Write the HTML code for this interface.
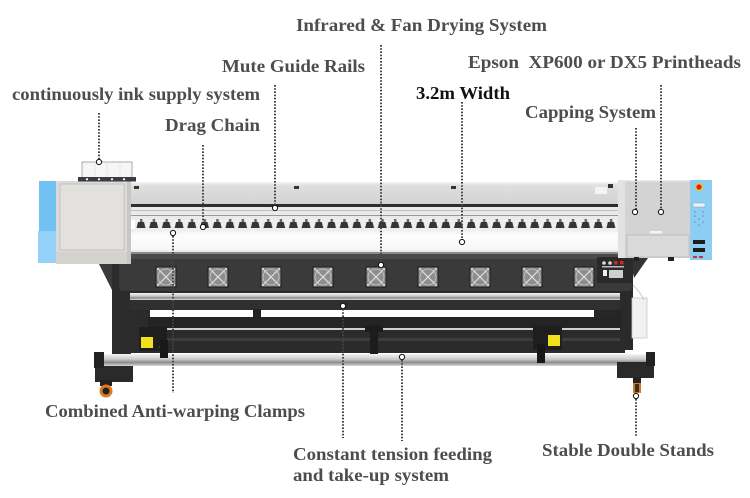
<!DOCTYPE html>
<html><head><meta charset="utf-8">
<style>
html,body{margin:0;padding:0;background:#fff;}
svg{display:block;}
text{font-family:"Liberation Serif",serif;font-weight:bold;font-size:18px;fill:#4d4d4d;}
</style></head>
<body>
<svg width="750" height="498" viewBox="0 0 750 498" xmlns="http://www.w3.org/2000/svg">
<defs>
<linearGradient id="rod" x1="0" y1="0" x2="0" y2="1">
<stop offset="0" stop-color="#f4f4f4"/><stop offset="0.45" stop-color="#c8c8c8"/><stop offset="0.7" stop-color="#8a8a8a"/><stop offset="1" stop-color="#d8d8d8"/>
</linearGradient>
<linearGradient id="roll" x1="0" y1="0" x2="0" y2="1">
<stop offset="0" stop-color="#ececec"/><stop offset="0.25" stop-color="#fdfdfd"/><stop offset="0.85" stop-color="#f7f7f7"/><stop offset="1" stop-color="#dcdcdc"/>
</linearGradient>
<linearGradient id="cover" x1="0" y1="0" x2="0" y2="1">
<stop offset="0" stop-color="#ebebeb"/><stop offset="0.2" stop-color="#dedede"/><stop offset="1" stop-color="#d2d2d2"/>
</linearGradient>
<pattern id="heads" x="135" y="219" width="12.7" height="10" patternUnits="userSpaceOnUse">
<rect x="0" y="0" width="12.7" height="10" fill="#eeeeee"/>
<polygon points="3,3 9,3 10.5,9 1.5,9" fill="#353535"/>
<rect x="5" y="0" width="2.5" height="3" fill="#666"/>
</pattern>
<g id="fan">
<rect x="-10" y="-10" width="20" height="20" fill="#8e8e8e" stroke="#1e1e1e" stroke-width="1"/>
<circle cx="0" cy="0" r="8" fill="none" stroke="#c8c8c8" stroke-width="0.8"/>
<line x1="-7" y1="-7" x2="7" y2="7" stroke="#e0e0e0" stroke-width="1.2"/>
<line x1="7" y1="-7" x2="-7" y2="7" stroke="#e0e0e0" stroke-width="1.2"/>
<circle cx="-8" cy="-8" r="0.9" fill="#fff"/><circle cx="8" cy="-8" r="0.9" fill="#fff"/>
<circle cx="-8" cy="8" r="0.9" fill="#fff"/><circle cx="8" cy="8" r="0.9" fill="#fff"/>
</g>
</defs>

<!-- ===== PRINTER ===== -->
<polygon points="98,262 132,262 124,290 112,290" fill="#3a3a3a"/>
<rect x="112" y="262" width="19" height="96" fill="#2c2c2c"/>
<polygon points="630,258 648,258 634,278" fill="#333"/>
<rect x="619" y="258" width="14" height="92" fill="#2a2a2a"/>
<rect x="632" y="298" width="15" height="40" fill="#f1f1f1" stroke="#c9c9c9" stroke-width="0.8"/>
<path d="M633,285 C640,292 642,296 644,300" stroke="#bcd" stroke-width="1" fill="none"/>

<rect x="128" y="291" width="492" height="3" fill="#2a2a2a"/>
<rect x="130" y="293" width="490" height="7" fill="url(#rod)"/>
<rect x="130" y="300" width="490" height="10" fill="#2f2f2f"/>
<rect x="130" y="310" width="20" height="20" fill="#2b2b2b"/>
<rect x="594" y="310" width="28" height="22" fill="#262626"/>
<rect x="148" y="317" width="472" height="11" fill="#242424"/>
<rect x="148" y="328" width="472" height="2" fill="#cfcfcf"/>
<rect x="130" y="330" width="495" height="23" fill="#2b2b2b"/>
<rect x="150" y="338" width="470" height="3" fill="#3d3d3d"/>
<rect x="253" y="309" width="8" height="9" fill="#222"/>
<rect x="370" y="325" width="8" height="35" fill="#1c1c1c"/>
<rect x="365" y="326" width="18" height="6" fill="#1c1c1c"/>
<rect x="95" y="354" width="560" height="12" fill="url(#rod)"/>
<rect x="95" y="366" width="38" height="16" fill="#2a2a2a"/>
<rect x="94" y="352" width="10" height="16" fill="#222"/>
<rect x="100" y="380" width="12" height="6" fill="#222"/>
<circle cx="106" cy="391" r="6.5" fill="#e07820"/>
<circle cx="106" cy="391" r="3.5" fill="#222"/>
<rect x="617" y="362" width="37" height="16" fill="#2a2a2a"/>
<rect x="646" y="352" width="9" height="14" fill="#222"/>
<rect x="633" y="378" width="8" height="6" fill="#222"/>
<rect x="633" y="383" width="8" height="10" fill="#d9761e"/>
<rect x="635" y="384" width="4" height="8" fill="#333"/>
<rect x="139" y="327" width="28" height="24" fill="#1e1e1e"/>
<rect x="141" y="337" width="12" height="11" fill="#f1e11b"/>
<circle cx="161" cy="347" r="1.3" fill="#e8d21a"/>
<rect x="160" y="340" width="8" height="18" fill="#181818"/>
<rect x="533" y="326" width="29" height="24" fill="#1e1e1e"/>
<rect x="548" y="335" width="12" height="11" fill="#f1e11b"/>
<circle cx="541" cy="346" r="1.3" fill="#e8d21a"/>
<rect x="537" y="344" width="8" height="19" fill="#181818"/>

<rect x="119" y="257" width="513" height="34" rx="3" fill="#3a3a3a"/>
<rect x="119" y="257" width="513" height="2" fill="#4a4a4a"/>
<use href="#fan" x="166" y="277"/>
<use href="#fan" x="218" y="277"/>
<use href="#fan" x="271" y="277"/>
<use href="#fan" x="323" y="277"/>
<use href="#fan" x="376" y="277"/>
<use href="#fan" x="428" y="277"/>
<use href="#fan" x="480" y="277"/>
<use href="#fan" x="532" y="277"/>
<use href="#fan" x="584" y="277"/>
<rect x="597" y="257" width="36" height="26" fill="#2a2a2a"/>
<circle cx="604" cy="263" r="1.8" fill="#ddd"/>
<circle cx="610" cy="263" r="1.8" fill="#ddd"/>
<rect x="614" y="261" width="3.5" height="3.5" fill="#d22"/>
<rect x="620" y="261" width="3.5" height="3.5" fill="#d22"/>
<rect x="602" y="266" width="22" height="1.5" fill="#bbb"/>
<rect x="603" y="270" width="4" height="6" fill="#eee"/>
<rect x="609" y="270" width="14" height="8" fill="#cfcfcf"/>

<rect x="128" y="182" width="494" height="23" fill="url(#cover)"/>
<rect x="128" y="182" width="494" height="1.5" fill="#f2f2f2"/>
<rect x="134" y="186" width="5" height="3" fill="#333"/>
<rect x="294" y="186" width="5" height="3" fill="#333"/>
<rect x="451" y="186" width="5" height="3" fill="#333"/>
<rect x="595" y="187" width="12" height="7" fill="#f4f4f4"/>
<rect x="608" y="184" width="5" height="4" fill="#333"/>
<rect x="128" y="204" width="494" height="3" fill="#2e2e2e"/>
<rect x="130" y="207" width="490" height="13" fill="#eaeaea"/>
<rect x="130" y="210" width="490" height="1" fill="#c0c0c0"/>
<rect x="130" y="215" width="490" height="1" fill="#9a9a9a"/>
<rect x="135" y="219" width="485" height="10" fill="url(#heads)"/>
<rect x="130" y="229" width="490" height="24" fill="url(#roll)"/>
<rect x="130" y="252" width="490" height="2" fill="#8a8a8a"/>
<rect x="128" y="254" width="494" height="3" fill="#4a4a4a"/>

<rect x="39" y="181" width="19" height="50" fill="#72c1f3"/>
<rect x="38" y="231" width="20" height="32" fill="#93d1f8"/>
<rect x="56" y="181" width="75" height="83" fill="#dcdad6"/>
<rect x="60" y="184" width="64" height="66" fill="#e3e1de" stroke="#bdbbb7" stroke-width="0.8"/>
<rect x="56" y="252" width="75" height="12" fill="#d4d2ce"/>
<rect x="127" y="181" width="4" height="83" fill="#c9c7c3"/>
<rect x="82" y="162" width="50" height="16" fill="#f6f6f6" stroke="#777" stroke-width="0.6"/>
<line x1="95" y1="162" x2="95" y2="177" stroke="#ddd" stroke-width="0.6"/>
<line x1="107" y1="162" x2="107" y2="177" stroke="#ddd" stroke-width="0.6"/>
<line x1="120" y1="162" x2="120" y2="177" stroke="#ddd" stroke-width="0.6"/>
<rect x="78" y="177" width="58" height="4.5" fill="#3b3b45"/>
<circle cx="87" cy="179.2" r="1.1" fill="#fff"/>
<circle cx="99" cy="179.2" r="1.1" fill="#fff"/>
<circle cx="112" cy="179.2" r="1.1" fill="#fff"/>
<circle cx="124" cy="179.2" r="1.1" fill="#fff"/>

<rect x="618" y="180" width="8" height="78" fill="#e2e2e2"/>
<rect x="625" y="180" width="66" height="78" fill="#d3d3d3"/>
<rect x="625" y="180" width="66" height="1.5" fill="#e8e8e8"/>
<rect x="627" y="235" width="62" height="22" fill="#dadada" stroke="#b0b0b0" stroke-width="0.6"/>
<rect x="650" y="231" width="12" height="2.5" fill="#f4f4f4"/>
<rect x="634" y="257" width="5" height="4" fill="#222"/>
<rect x="668" y="257" width="6" height="4" fill="#222"/>
<rect x="690" y="180" width="22" height="80" fill="#8ccdf2"/>
<circle cx="699" cy="187" r="4" fill="#f3c41a"/>
<circle cx="699" cy="187" r="2.6" fill="#d8231e"/>
<rect x="693" y="203" width="12" height="4" fill="#eef" stroke="#7aa" stroke-width="0.5"/>
<g fill="#5a8fb8">
<circle cx="695" cy="212" r="0.8"/><circle cx="703" cy="212" r="0.8"/>
<circle cx="695" cy="216" r="0.8"/><circle cx="703" cy="216" r="0.8"/>
<circle cx="699" cy="219" r="0.8"/><circle cx="695" cy="222" r="0.8"/><circle cx="703" cy="222" r="0.8"/>
<circle cx="699" cy="225" r="0.8"/>
</g>
<rect x="693" y="240" width="12" height="4" fill="#1e1e1e"/>
<rect x="693" y="248" width="12" height="4" fill="#1e1e1e"/>
<rect x="693" y="256" width="4" height="2" fill="#c33"/>
<rect x="699" y="256" width="4" height="2" fill="#c33"/>

<!-- ===== CONNECTORS ===== -->
<g stroke="#444" stroke-width="2" stroke-dasharray="1.6 1.6" fill="none">
<line x1="99" y1="113" x2="99" y2="159"/>
<line x1="203" y1="145" x2="203" y2="224"/>
<line x1="173" y1="236" x2="173" y2="393"/>
<line x1="275" y1="85" x2="275" y2="205"/>
<line x1="381" y1="45" x2="381" y2="262"/>
<line x1="462" y1="102" x2="462" y2="239"/>
<line x1="661" y1="85" x2="661" y2="209"/>
<line x1="636" y1="128" x2="636" y2="210"/>
<line x1="343" y1="309" x2="343" y2="438"/>
<line x1="402" y1="360" x2="402" y2="441"/>
<line x1="636" y1="399" x2="636" y2="437"/>
</g>
<g fill="#fff" stroke="#111" stroke-width="1">
<circle cx="99" cy="162" r="2.6"/>
<circle cx="203" cy="227" r="2.6"/>
<circle cx="173" cy="233" r="2.6"/>
<circle cx="275" cy="208" r="2.6"/>
<circle cx="381" cy="265" r="2.6"/>
<circle cx="462" cy="242" r="2.6"/>
<circle cx="661" cy="212" r="2.6"/>
<circle cx="635" cy="212" r="2.6"/>
<circle cx="343" cy="306" r="2.6"/>
<circle cx="402" cy="357" r="2.6"/>
<circle cx="636" cy="396" r="2.6"/>
</g>

<!-- ===== LABELS ===== -->
<text x="296" y="31" textLength="251" lengthAdjust="spacingAndGlyphs">Infrared &amp; Fan Drying System</text>
<text x="222" y="72" textLength="143" lengthAdjust="spacingAndGlyphs">Mute Guide Rails</text>
<text x="468" y="68" textLength="273" lengthAdjust="spacingAndGlyphs" xml:space="preserve">Epson  XP600 or DX5 Printheads</text>
<text x="12" y="100" textLength="248" lengthAdjust="spacingAndGlyphs">continuously ink supply system</text>
<text x="416" y="99" textLength="94" lengthAdjust="spacingAndGlyphs" style="fill:#111">3.2m Width</text>
<text x="525" y="118" textLength="131" lengthAdjust="spacingAndGlyphs">Capping System</text>
<text x="165" y="131" textLength="95" lengthAdjust="spacingAndGlyphs">Drag Chain</text>
<text x="45" y="417" textLength="260" lengthAdjust="spacingAndGlyphs">Combined Anti-warping Clamps</text>
<text x="293" y="460" textLength="199" lengthAdjust="spacingAndGlyphs">Constant tension feeding</text>
<text x="293" y="481" textLength="156" lengthAdjust="spacingAndGlyphs">and take-up system</text>
<text x="542" y="456" textLength="172" lengthAdjust="spacingAndGlyphs">Stable Double Stands</text>
</svg>
</body></html>
